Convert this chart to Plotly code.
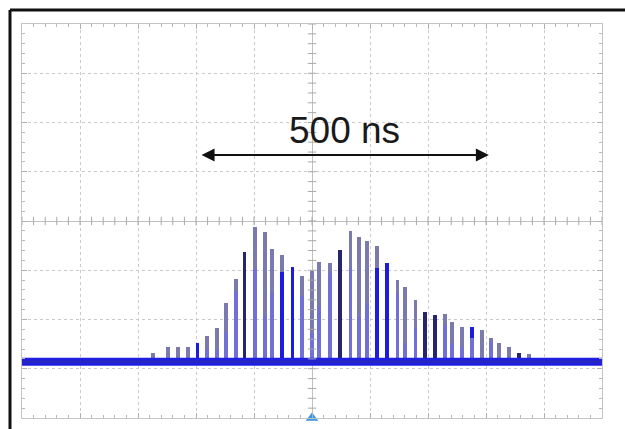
import plotly.graph_objects as go

# ---- data (time in ns, amplitude in screen divisions) ----
pulse_t = [-274, -248, -231, -214, -197, -181, -164, -148, -131, -116, -98, -81, -69, -52,
           -34, -17, 0, 12, 31, 48, 66, 81, 95, 112, 129, 147, 160, 178, 195, 212, 229,
           241, 259, 276, 293, 309, 322, 340, 357, 374]
pulse_peak = [-2.68, -2.56, -2.56, -2.56, -2.48, -2.34, -2.17, -1.67, -1.18, -0.63, -0.12,
              -0.22, -0.57, -0.69, -0.93, -1.12, -1.02, -0.83, -0.85, -0.59, -0.20, -0.32,
              -0.41, -0.51, -0.85, -1.20, -1.34, -1.60, -1.85, -1.91, -1.89, -2.05, -2.15,
              -2.15, -2.21, -2.38, -2.48, -2.56, -2.68, -2.70]
pulse_shade = ["L", "L", "L", "L", "B", "L", "L", "L", "L", "N", "L", "L", "L", "L",
               "B", "L", "L", "L", "L", "N", "L", "L", "L", "L", "B", "L", "L", "L",
               "N", "N", "L", "L", "L", "B", "L", "L", "L", "L", "N", "L"]
# shorter overlapping shots (persistence)
second_t = [-181, -164, -148, -131, -98, -81, -69, -52, -17, 0, 12, 31, 66, 81, 95, 112,
            147, 160, 178, 229, 241, 259, 276, 309]
second_peak = [-2.60, -2.62, -2.25, -1.42, -0.97, -1.91, -1.46, -1.04, -1.52, -2.27, -1.75,
               -1.06, -0.95, -1.95, -1.67, -0.95, -1.46, -2.48, -2.17, -2.11, -2.48, -2.56,
               -2.38, -2.46]
second_shade = ["S", "S", "S", "S", "S", "S", "S", "B", "S", "S", "S", "S", "S", "S", "S",
                "B", "S", "S", "S", "S", "S", "S", "S", "S"]
baseline_level = -2.86
time_span = [-500, 500]
span_label = "500 ns"
span_arrow = [-193, 305]
span_arrow_level = 1.34
span_label_level = 1.83

shade_colors = {"L": "#7a7aae", "N": "#26266e", "B": "#1c1ce0", "S": "#7070d6"}

fig = go.Figure()

fig.add_trace(go.Bar(
    x=pulse_t, y=[p - baseline_level for p in pulse_peak], base=baseline_level,
    width=6, marker=dict(color=[shade_colors[s] for s in pulse_shade], line_width=0),
    hoverinfo="skip"))
fig.add_trace(go.Bar(
    x=second_t, y=[p - baseline_level for p in second_peak], base=baseline_level,
    width=6, marker=dict(color=[shade_colors[s] for s in second_shade], line_width=0),
    hoverinfo="skip"))

# baseline trace
fig.add_trace(go.Scatter(
    x=time_span, y=[baseline_level, baseline_level], mode="lines",
    line=dict(color="#1f1fe0", width=8), hoverinfo="skip"))
fig.add_trace(go.Scatter(
    x=time_span, y=[baseline_level, baseline_level], mode="lines",
    line=dict(color="#2828b4", width=2), hoverinfo="skip"))

# centre cross-hair minor ticks
xt = [time_span[0] + 20 * i for i in range(51)]
yt = [-4 + 0.2 * i for i in range(41)]
fig.add_trace(go.Scatter(x=xt, y=[0] * len(xt), mode="markers",
                         marker=dict(symbol="line-ns", size=6, line=dict(color="#a8a8a8", width=1)),
                         hoverinfo="skip"))
fig.add_trace(go.Scatter(x=[0] * len(yt), y=yt, mode="markers",
                         marker=dict(symbol="line-ew", size=6, line=dict(color="#a8a8a8", width=1)),
                         hoverinfo="skip"))
# trigger marker
fig.add_trace(go.Scatter(x=[0], y=[-4], mode="markers", cliponaxis=False,
                         marker=dict(symbol="triangle-up", size=11, color="#3a95ea"),
                         hoverinfo="skip"))

fig.add_annotation(x=span_arrow[1], y=span_arrow_level, ax=span_arrow[0], ay=span_arrow_level,
                   xref="x", yref="y", axref="x", ayref="y", text="", showarrow=True,
                   arrowhead=2, arrowside="end+start", arrowsize=1.3, arrowwidth=2,
                   arrowcolor="#111111")
fig.add_annotation(x=(span_arrow[0] + span_arrow[1]) / 2, y=span_label_level, text=span_label,
                   showarrow=False, font=dict(family="Liberation Sans, Arial", size=37, color="#1a1a1a"))

# outer frame (left and top edges only; the rest is cut off in the picture)
fig.add_shape(type="line", xref="paper", yref="paper", x0=-0.0207, x1=-0.0207, y0=-0.1, y1=1.0355,
              line=dict(color="#111111", width=3), layer="above")
fig.add_shape(type="line", xref="paper", yref="paper", x0=-0.0207, x1=1.1, y0=1.0355, y1=1.0355,
              line=dict(color="#111111", width=3), layer="above")

axis_common = dict(showticklabels=False, showline=True, mirror="allticks", linecolor="#c4c4c4",
                   linewidth=1, showgrid=True, gridcolor="#cacaca", griddash="dot", gridwidth=1,
                   zeroline=True, zerolinecolor="#c0c0c0", zerolinewidth=1,
                   ticks="inside", ticklen=5, tickcolor="#b0b0b0",
                   fixedrange=True)
fig.update_xaxes(range=time_span, dtick=100, tick0=0,
                 minor=dict(dtick=20, ticks="inside", ticklen=3, tickcolor="#b8b8b8", showgrid=False),
                 **axis_common)
fig.update_yaxes(range=[-4, 4], dtick=1, tick0=0,
                 minor=dict(dtick=0.2, ticks="inside", ticklen=3, tickcolor="#b8b8b8", showgrid=False),
                 **axis_common)

fig.update_layout(width=625, height=429, margin=dict(l=22, r=23, t=24, b=11),
                  paper_bgcolor="white", plot_bgcolor="white", showlegend=False,
                  barmode="overlay", bargap=0)

fig.write_html("out.html", config={"displayModeBar": False},
               post_script="document.body.style.margin='0';document.body.style.overflow='hidden';")
